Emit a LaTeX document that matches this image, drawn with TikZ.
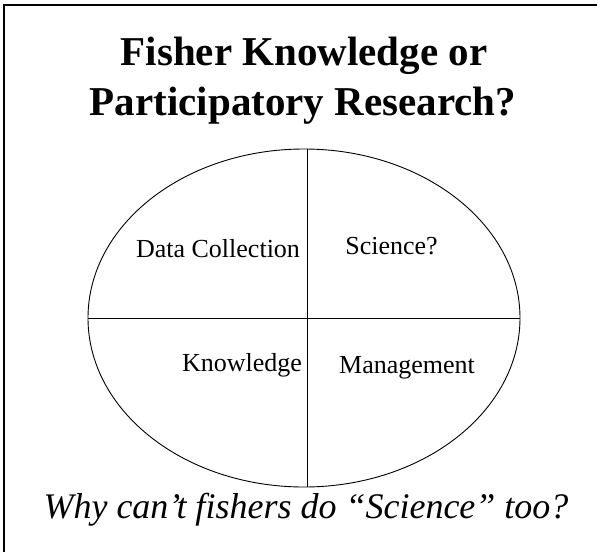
\documentclass[tikz,border=0pt]{standalone}
\usepackage{fontspec}
\setmainfont{Liberation Serif}
\usepackage{tikz}
\usetikzlibrary{shapes.geometric}

\begin{document}
\begin{tikzpicture}[x=1pt, y=-1pt,
    quadlabel/.style={font=\fontsize{26}{30}\selectfont, anchor=base, inner sep=0pt},
    titleline/.style={font=\fontsize{41}{50}\selectfont\bfseries, anchor=base, inner sep=0pt}]
    \useasboundingbox (0,0) rectangle (597,552);

    % Frame (top and left edges)
    \draw[line width=1.8pt] (3.7,552) -- (3.7,5) -- (597,5);

    % Title
    \node[titleline] (title1) at (304,65) {Fisher Knowledge or};
    \node[titleline] (title2) at (303,115) {Participatory Research?};

    % Oval split into four parts
    \node[draw, ellipse, line width=0.9pt, minimum width=432pt, minimum height=338pt, inner sep=0pt] (oval) at (304,318) {};
    \draw[line width=0.8pt] (oval.west) -- (oval.east);
    \draw[line width=0.8pt] ([xshift=3.5pt]oval.north) -- ([xshift=3.5pt]oval.south);

    % Quarter labels
    \node[quadlabel] (data) at (218,257) {Data Collection};
    \node[quadlabel] (sci) at (391.5,254) {Science?};
    \node[quadlabel] (know) at (242,371) {Knowledge};
    \node[quadlabel] (mgmt) at (407,373) {Management};

    % Question
    \node[font=\fontsize{36}{40}\selectfont\itshape, anchor=base, inner sep=0pt] (why) at (306,518) {Why can’t fishers do “Science” too?};
\end{tikzpicture}
\end{document}
